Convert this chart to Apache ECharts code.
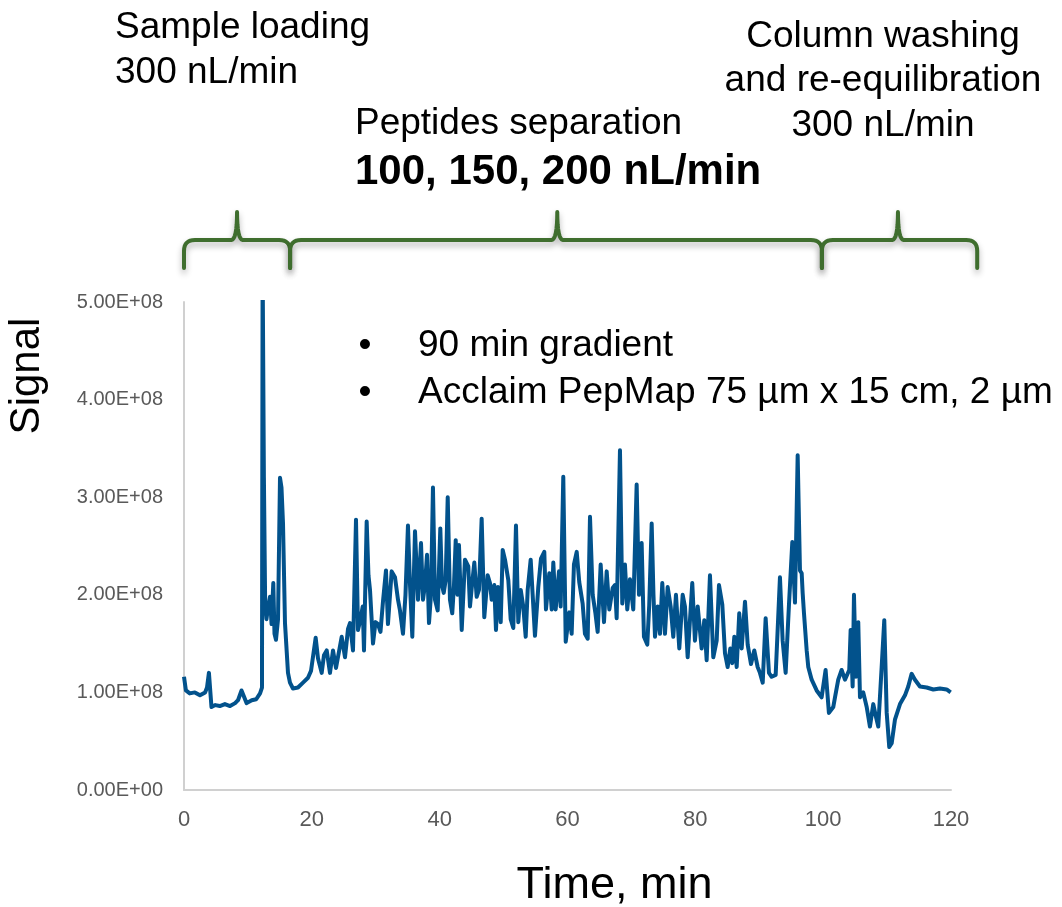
<!DOCTYPE html>
<html>
<head>
<meta charset="utf-8">
<script src="https://cdn.jsdelivr.net/npm/echarts@6/dist/echarts.min.js"></script>
<style>
html,body{margin:0;padding:0;background:#fff;}
#chart{width:1062px;height:907px;}
</style>
</head>
<body>
<div id="chart"></div>
<script>
// ---- data (time in min, signal in units of 1e8) ----
const times = [0.0,0.3,0.9,1.7,2.5,3.3,3.6,3.9,4.3,4.9,5.6,6.4,7.2,8.0,8.45,9.0,9.8,10.6,11.3,11.9,12.2,12.3,12.5,12.7,12.9,13.1,13.45,13.7,13.97,14.16,14.39,14.71,15.02,15.25,15.49,15.8,16.27,16.58,17.05,17.83,18.62,19.4,19.87,20.6,20.96,21.54,21.9,22.33,22.84,23.31,23.78,24.09,24.67,25.19,25.66,25.97,26.44,26.91,27.22,27.61,27.96,28.16,28.58,28.86,29.1,29.57,29.96,30.35,30.74,31.13,31.6,31.91,32.49,33.01,33.48,33.79,34.26,34.65,35.04,35.36,35.72,36.14,36.61,37.08,37.39,37.7,38.02,38.33,38.64,38.95,39.27,39.69,40.1,40.36,40.63,40.94,41.26,41.61,41.97,42.24,42.51,42.79,43.02,43.45,43.96,44.48,44.74,45.06,45.42,45.79,46.15,46.57,46.98,47.51,47.87,48.14,48.54,48.81,49.12,49.55,49.86,50.22,50.74,51.11,51.52,51.94,52.3,52.68,53.08,53.46,53.77,54.24,54.55,54.91,55.43,55.85,56.37,56.63,57.15,57.53,57.78,58.15,58.67,58.93,59.34,59.72,60.28,60.65,61.01,61.44,61.84,62.37,62.73,63.16,63.52,63.94,64.35,64.72,65.19,65.71,66.13,66.54,67.07,67.43,67.69,68.21,68.57,68.99,69.35,69.77,70.29,70.82,71.18,71.6,71.96,72.48,72.79,73.17,73.45,73.69,74.11,74.47,74.83,75.25,75.67,76.14,76.55,76.97,77.49,78.02,78.38,78.8,79.52,79.94,80.37,80.99,81.4,81.77,82.29,82.81,83.34,83.7,84.22,84.64,85.06,85.47,85.78,86.1,86.47,86.87,87.25,87.77,88.19,88.71,89.22,89.75,90.11,90.54,91.0,91.52,91.94,92.57,93.24,93.66,94.13,94.65,95.17,95.59,96.01,96.37,96.64,96.79,97.0,97.42,97.67,98.2,98.98,99.76,100.38,100.9,101.58,101.85,102.36,102.89,103.41,104.08,104.3,104.61,104.82,105.13,105.49,105.76,106.27,106.81,107.32,107.84,108.26,108.62,109.15,109.56,109.94,110.34,110.72,111.23,112.02,112.8,113.31,113.84,114.36,115.14,116.19,117.23,118.27,119.32,119.95];
const signal = [1.16,1.02,0.99,1.0,0.97,1.0,1.05,1.2,0.85,0.87,0.86,0.88,0.86,0.89,0.92,1.02,0.89,0.92,0.93,0.99,1.05,5.4,3.2,1.9,1.75,1.85,1.98,1.7,2.12,1.6,1.54,1.75,3.2,3.1,2.73,1.71,1.2,1.1,1.04,1.05,1.1,1.15,1.22,1.56,1.35,1.2,1.38,1.43,1.2,1.43,1.25,1.25,1.57,1.36,1.65,1.71,1.43,2.77,1.64,1.75,1.88,1.43,2.75,2.2,2.05,1.5,1.72,1.7,1.62,1.93,2.25,1.7,2.24,2.18,1.95,1.84,1.6,2.0,2.71,2.1,1.57,2.65,1.95,2.53,1.95,2.1,2.41,1.71,2.0,3.1,1.95,1.84,2.68,2.1,2.02,2.15,3.0,1.95,1.81,2.1,2.56,2.0,2.51,1.64,2.36,2.29,1.88,2.1,2.33,1.98,2.05,2.78,1.77,2.2,2.12,1.95,2.1,1.64,2.08,1.72,2.46,2.36,2.15,1.75,1.66,2.71,1.72,2.05,1.88,1.57,2.05,2.36,2.0,1.58,2.08,2.37,2.44,1.85,2.22,1.85,2.33,1.85,2.24,1.88,3.21,1.52,1.82,1.6,2.31,2.44,2.13,1.91,1.6,1.55,2.8,2.0,1.82,1.62,2.31,1.72,2.24,1.85,2.07,2.1,1.76,3.48,1.91,2.31,1.85,2.16,1.85,3.13,2.0,2.53,1.57,1.49,1.9,2.73,2.0,1.57,1.88,1.6,2.12,1.6,2.08,1.88,1.57,2.0,1.45,2.0,1.88,1.36,2.12,1.53,1.88,1.45,1.74,1.33,2.2,1.36,1.53,2.1,1.9,1.4,1.26,1.45,1.3,1.57,1.26,1.81,1.45,1.93,1.49,1.29,1.43,1.26,1.2,1.1,1.76,1.2,1.16,1.18,2.18,1.53,1.2,1.9,2.54,1.92,3.43,2.25,2.22,2.02,1.81,1.43,1.26,1.13,1.02,0.95,1.23,0.79,0.85,0.95,1.13,1.23,1.13,1.23,1.64,1.06,2.0,1.16,1.72,0.95,1.0,0.85,0.65,0.88,0.75,0.65,1.26,1.74,0.79,0.44,0.48,0.72,0.88,0.97,1.06,1.19,1.13,1.06,1.05,1.03,1.04,1.03,1.0];
const SIGNAL_UNIT = 1e8;

const xTicks = [0, 20, 40, 60, 80, 100, 120];
const yTickStep = 1e8;
const yMax = 5e8;

// phase annotations: [start, peak, end] in minutes
const phaseSpans = [[0, 8.3, 16.6], [16.6, 58.4, 99.8], [99.8, 111.7, 124.1]];

const phaseTexts = [
  { lines: ['Sample loading', '300 nL/min'] },
  { lines: ['Column washing', 'and re-equilibration', '300 nL/min'] },
  { lines: ['Peptides separation'] },
  { lines: ['100, 150, 200 nL/min'] }
];
const bulletItems = ['90 min gradient', 'Acclaim PepMap 75 µm x 15 cm, 2 µm'];

// ---- chart ----
const FONT = 'Liberation Sans, Arial, sans-serif';
const chart = echarts.init(document.getElementById('chart'), null, { renderer: 'canvas' });

function fmtE(v) {
  if (v === 0) return '0.00E+00';
  const e = Math.floor(Math.log10(Math.abs(v)) + 1e-9);
  const m = v / Math.pow(10, e);
  return m.toFixed(2) + 'E+' + (e < 10 ? '0' + e : '' + e);
}

const data = times.map((t, i) => [t, signal[i] * SIGNAL_UNIT]);

chart.setOption({
  animation: false,
  backgroundColor: '#ffffff',
  grid: { left: 184, right: 111, top: 302, bottom: 117, containLabel: false, outerBoundsMode: 'none' },
  xAxis: {
    type: 'value', min: xTicks[0], max: xTicks[xTicks.length - 1], interval: 20,
    axisLine: { show: true, lineStyle: { color: '#d0d0d0', width: 2 } },
    axisTick: { show: false },
    splitLine: { show: false },
    axisLabel: { color: '#595959', fontSize: 22, fontFamily: FONT, margin: 19 },
    name: 'Time, min', nameLocation: 'middle', nameGap: 73,
    nameTextStyle: { color: '#000', fontSize: 45, fontFamily: FONT, padding: [0, 0, 0, 94] }
  },
  yAxis: {
    type: 'value', min: 0, max: yMax, interval: yTickStep,
    axisLine: { show: true, lineStyle: { color: '#d0d0d0', width: 2 } },
    axisTick: { show: false },
    splitLine: { show: false },
    axisLabel: { color: '#595959', fontSize: 20, fontFamily: FONT, margin: 21, formatter: fmtE },
    name: 'Signal', nameLocation: 'middle', nameGap: 136, nameRotate: 90,
    nameTextStyle: { color: '#000', fontSize: 42, fontFamily: FONT, padding: [0, 0, 0, 340] }
  },
  series: [{
    type: 'line', data: data, showSymbol: false, clip: true,
    lineStyle: { color: '#02528c', width: 4, join: 'round' },
    itemStyle: { color: '#02528c' }
  }]
});

// ---- annotations ----
function px(v) { return chart.convertToPixel({ xAxisIndex: 0 }, v); }

function bracePoints(xa, xc, xb, yTip, yH, yTop, r, w) {
  const pts = [];
  function quad(p0, c, p1, n) {
    for (let k = 1; k <= n; k++) {
      const t = k / n, u = 1 - t;
      pts.push([u * u * p0[0] + 2 * u * t * c[0] + t * t * p1[0], u * u * p0[1] + 2 * u * t * c[1] + t * t * p1[1]]);
    }
  }
  pts.push([xa, yTip]);
  pts.push([xa, yH + r]);
  quad([xa, yH + r], [xa, yH], [xa + r, yH], 8);
  pts.push([xc - w, yH]);
  quad([xc - w, yH], [xc, yH], [xc, yTop], 8);
  quad([xc, yTop], [xc, yH], [xc + w, yH], 8);
  pts.push([xb - r, yH]);
  quad([xb - r, yH], [xb, yH], [xb, yH + r], 8);
  pts.push([xb, yTip]);
  return pts;
}

const graphics = [];
phaseSpans.forEach(s => {
  graphics.push({
    type: 'polyline', silent: true,
    shape: { points: bracePoints(px(s[0]), px(s[1]), px(s[2]), 268, 240, 212, 11, 6) },
    style: { stroke: '#3f6e2e', lineWidth: 4, fill: null, lineJoin: 'round', lineCap: 'round',
             shadowBlur: 6, shadowOffsetY: 4, shadowColor: 'rgba(0,0,0,0.3)' }
  });
});

function addText(text, x, y, align, size, bold) {
  graphics.push({
    type: 'text', x: x, y: y, silent: true,
    style: { text: text, fill: '#000', font: (bold ? 'bold ' : '') + size + 'px ' + FONT,
             textAlign: align, textVerticalAlign: 'middle' }
  });
}
addText(phaseTexts[0].lines[0], 115, 28, 'left', 37);
addText(phaseTexts[0].lines[1], 115, 73, 'left', 37);
addText(phaseTexts[1].lines[0], 883, 37, 'center', 37);
addText(phaseTexts[1].lines[1], 883, 81, 'center', 37);
addText(phaseTexts[1].lines[2], 883, 126, 'center', 37);
addText(phaseTexts[2].lines[0], 355, 124, 'left', 37);
addText(phaseTexts[3].lines[0], 355, 172, 'left', 42, true);
bulletItems.forEach((b, i) => {
  addText('•', 365, 346 + i * 47, 'center', 37);
  addText(b, 418, 346 + i * 47, 'left', 37);
});

chart.setOption({ graphic: graphics });
</script>
</body>
</html>
